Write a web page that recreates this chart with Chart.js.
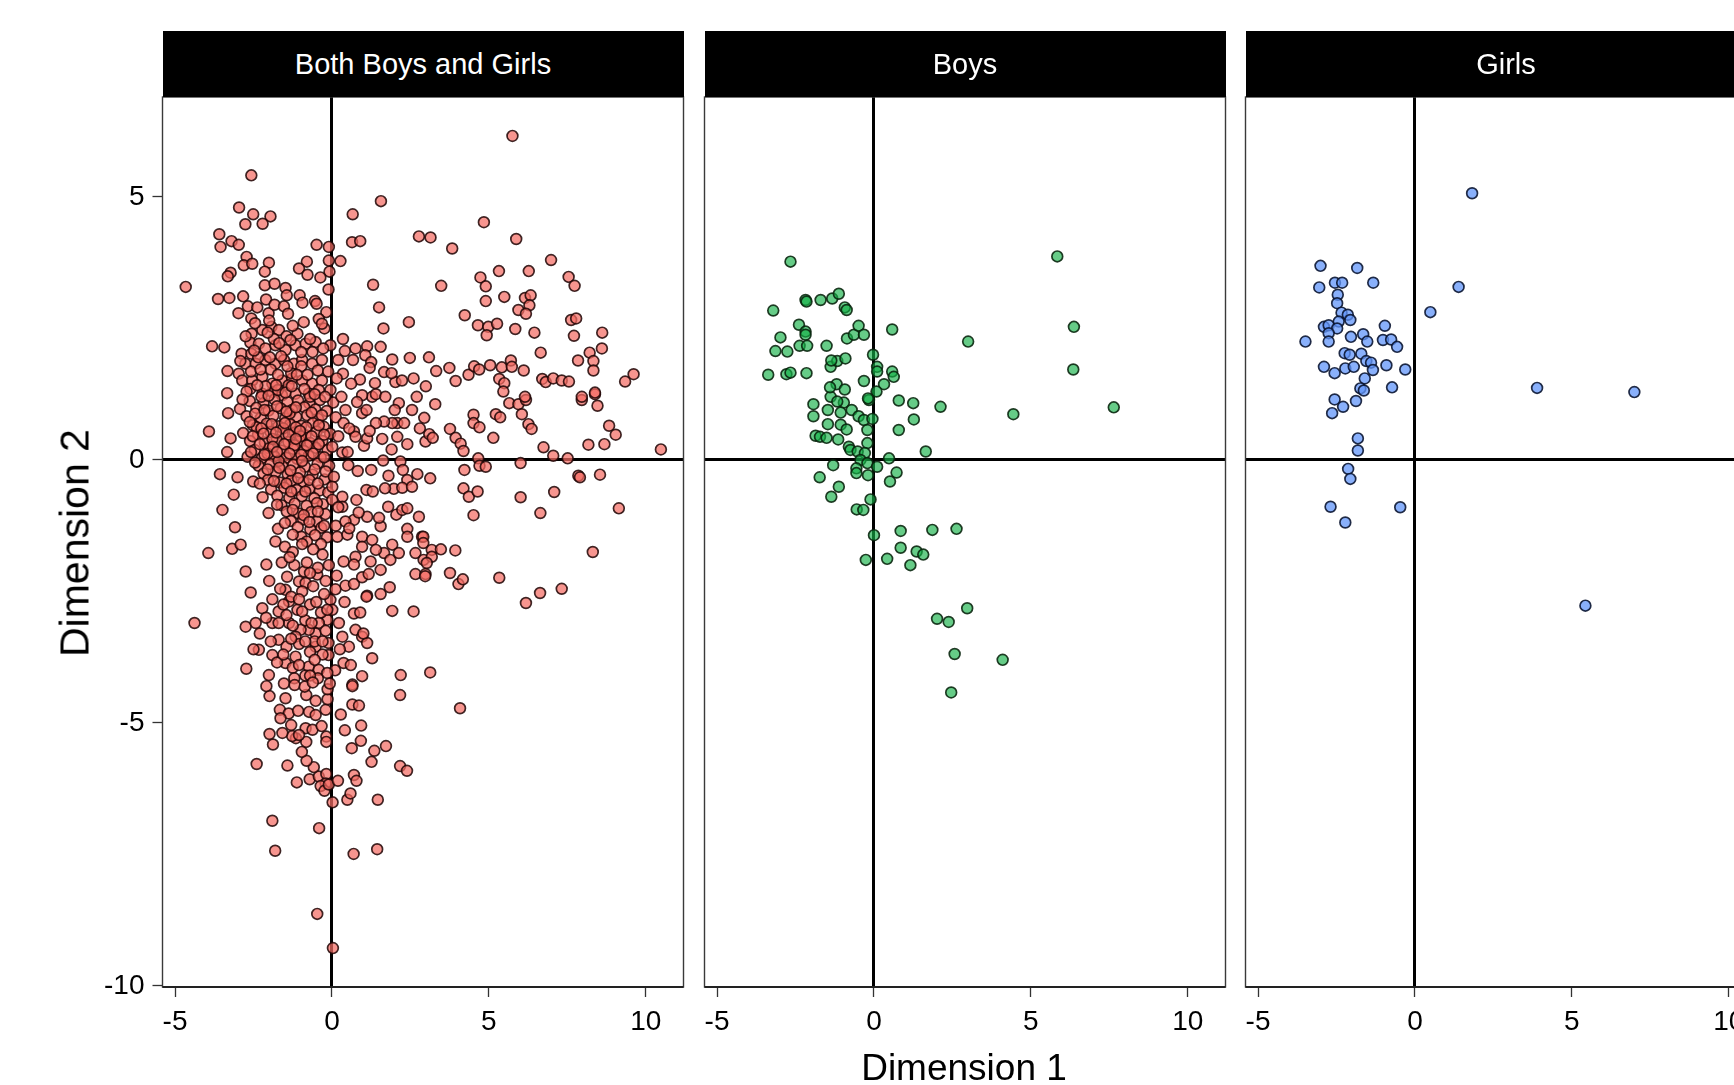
<!DOCTYPE html>
<html>
<head>
<meta charset="utf-8">
<script src="https://cdn.jsdelivr.net/npm/chart.js@4.4.1/dist/chart.umd.min.js"></script>
<style>
  html, body { margin: 0; padding: 0; background: #fff; overflow: hidden; }
  #wrap { position: relative; width: 1734px; height: 1085px; overflow: hidden; background: #fff;
          font-family: 'Liberation Sans', Arial, Helvetica, sans-serif; }
  canvas { position: absolute; left: 0; top: 0; }
  .strip { position: absolute; top: 31px; height: 66px; background: #000; color: #fff;
           font-size: 29px; line-height: 66px; text-align: center; white-space: nowrap; }
  .title { position: absolute; color: #000; white-space: nowrap; }
</style>
</head>
<body>
<div id="wrap">
  <canvas id="c1" width="1734" height="1085"></canvas>
  <canvas id="c2" width="1734" height="1085"></canvas>
  <canvas id="c3" width="1800" height="1085"></canvas>
  <div class="strip" id="s1"></div>
  <div class="strip" id="s2"></div>
  <div class="strip" id="s3"></div>
  <div class="title" id="ty" style="left:75px; top:543px; font-size:41px; transform: translate(-50%,-50%) rotate(-90deg);"></div>
  <div class="title" id="tx" style="left:964px; top:1068px; font-size:37px; transform: translate(-50%,-50%);"></div>
</div>
<script>
// ---------------- DATA ----------------
const panelTitles = ["Both Boys and Girls", "Boys", "Girls"];
const xAxisTitle = "Dimension 1";
const yAxisTitle = "Dimension 2";
const xTicks = [-5, 0, 5, 10];
const yTicks = [-10, -5, 0, 5];

// Both Boys and Girls: [Dimension 1, Dimension 2]
const bothUpper = [
[-2.57,5.41],[1.56,4.92],[0.66,4.67],[-2.96,4.80],[-2.51,4.67],[-1.96,4.63],[-2.76,4.48],[-2.21,4.49],[-3.59,4.29],[-3.55,4.05],
[-3.20,4.16],[-2.97,4.09],[0.64,4.14],[0.90,4.16],[2.77,4.25],[3.14,4.23],[-0.49,4.09],[-0.10,4.05],[-2.72,3.86],[-2.81,3.70],
[-2.54,3.73],[-2.01,3.75],[-0.80,3.77],[-1.05,3.64],[-0.78,3.52],[-0.10,3.79],[0.27,3.78],[-0.08,3.58],[-0.37,3.47],[-3.23,3.56],
[-3.32,3.49],[-2.14,3.58],[-4.66,3.29],[-2.14,3.32],[-1.83,3.35],[-1.48,3.27],[-1.44,3.13],[-0.11,3.24],[1.31,3.33],[-3.63,3.06],
[-3.27,3.08],[-2.83,3.11],[-1.03,3.13],[-0.94,2.99],[-0.54,3.02],[-0.49,2.97],[1.50,2.90],[-2.98,2.79],[-2.68,2.92],[-2.38,2.90],
[-2.57,2.69],[-2.10,3.05],[-2.02,2.79],[-1.83,2.95],[-1.53,2.92],[-1.40,2.78],[-0.18,2.81],[-0.42,2.68],[2.45,2.62],[1.64,2.50],
[-0.24,2.50],[-0.32,2.59],[-1.93,2.53],[-2.22,2.47],[-1.69,2.47],[-2.56,2.40],[-3.82,2.16],[-3.43,2.14],[-0.05,2.18],[1.55,2.15],
[1.92,1.91],[2.48,1.94],[3.09,1.95],[1.66,1.67],[2.02,1.48],[2.23,1.51],[2.99,1.40],[0.89,1.53],[0.41,2.07],[0.75,2.12],
[1.12,2.16],[0.20,1.90],[0.67,1.90],[1.06,1.99],[1.25,1.86],[0.35,1.64],[0.61,1.45],[1.37,1.46],[-3.33,1.69],[-3.34,1.27],
[-2.97,1.64],[-2.88,2.02],[-2.57,2.02],[-2.60,2.23]
];
const bothCore = [
[-2.33,2.21],[-2.12,2.12],[-1.80,2.18],[-1.48,2.09],[-1.16,2.18],[-0.84,2.21],[-0.52,2.24],[-2.76,1.83],[-2.43,1.83],[-2.12,1.90],
[-1.80,1.83],[-1.53,1.90],[-1.21,1.83],[-0.95,1.90],[-0.63,1.83],[-0.32,1.90],[-2.86,1.51],[-2.54,1.51],[-2.22,1.58],[-1.90,1.45],
[-1.59,1.51],[-1.27,1.55],[-0.95,1.51],[-0.63,1.45],[-0.32,1.51],[-2.22,1.26],[-1.90,1.29],[-1.59,1.23],[-1.16,1.26],[-0.74,1.26],
[-0.42,1.33],[-0.05,1.33],
[-2.62,1.12],[-2.18,1.08],[-1.83,1.15],[-1.42,1.10],[-1.08,1.13],[-0.72,1.07],[-0.38,1.14],[0.04,1.09],
[-2.93,0.97],[-2.41,0.99],[-2.02,0.94],[-1.63,0.98],[-1.27,0.95],[-0.88,1.00],[-0.53,0.96],[-0.17,0.93],
[-2.72,0.83],[-2.27,0.80],[-1.87,0.84],[-1.49,0.79],[-1.14,0.82],[-0.79,0.85],[-0.44,0.78],[0.12,0.81],
[-2.52,0.66],[-2.08,0.69],[-1.71,0.64],[-1.33,0.68],[-0.98,0.65],[-0.61,0.70],[-0.26,0.63],
[-2.83,0.51],[-2.36,0.48],[-1.96,0.53],[-1.57,0.49],[-1.19,0.52],[-0.84,0.47],[-0.49,0.54],[-0.06,0.50],
[-2.61,0.36],[-2.14,0.33],[-1.76,0.38],[-1.39,0.34],[-1.03,0.37],[-0.69,0.32],[-0.31,0.36],
[-2.46,0.19],[-2.01,0.22],[-1.62,0.18],[-1.24,0.21],[-0.89,0.17],[-0.52,0.23],[-0.14,0.19],
[-2.69,0.06],[-2.24,0.03],[-1.84,0.07],[-1.46,0.04],[-1.11,0.02],[-0.74,0.08],[-0.36,0.05],
[-2.34,-0.11],[-1.96,-0.08],[-1.58,-0.12],[-1.23,-0.09],[-0.86,-0.13],[-0.46,-0.07],[-0.09,-0.11],
[-2.18,-0.26],[-1.79,-0.23],[-1.41,-0.27],[-1.02,-0.24],[-0.62,-0.28],
[-2.51,-0.41],[-2.04,-0.38],[-1.66,-0.43],[-1.29,-0.39],[-0.91,-0.42],[-0.24,-0.37],
[-1.94,-0.56],[-1.52,-0.53],[-1.12,-0.57],[-0.71,-0.54],[-0.39,-0.58],
[-2.21,-0.71],[-1.74,-0.68],[-1.36,-0.72],[-0.96,-0.69],[-0.56,-0.73],
[-1.61,-0.86],[-1.19,-0.83],[-0.81,-0.87],[-0.29,-0.84],
[-2.02,-1.01],[-1.44,-0.98],[-1.06,-1.02],[-0.66,-0.99],[-0.21,-1.03],
[-1.31,-1.16],[-0.92,-1.13],[-0.48,-1.17],
[-1.72,-1.31],[-1.09,-1.28],[-0.69,-1.32],[-0.34,-1.29],
[-0.98,-1.46],[-0.54,-1.43],[-0.16,-1.47],
[-2.35,1.95],[-1.95,1.72],[-1.62,1.97],[-1.30,1.65],[-0.98,1.78],[-2.12,1.40],[-1.72,1.33],[-1.38,1.42],[-2.40,0.62],[-1.90,0.40],
[-1.55,0.60],[-1.20,0.28],[-2.05,0.12],[-1.70,-0.02],[-1.35,0.88],[-2.25,1.20],[-1.00,0.45],[-0.70,1.20],[-2.60,1.35],[-1.85,2.30],
[-1.45,2.35],[-1.10,2.40],[-0.70,2.30],[-2.45,2.60],[-1.25,2.55],[-0.90,2.62],[-2.00,2.65]
];
const bothCoreExtra = [
[-2.75,2.35],[-2.48,2.08],[-2.05,2.42],[-1.68,2.22],[-1.32,2.28],[-0.98,2.05],[-0.62,2.05],[-0.28,2.12],[-2.92,1.88],[-2.58,1.68],
[-2.28,1.72],[-1.98,1.95],[-1.72,1.62],[-1.42,1.78],[-1.12,1.62],[-0.78,1.62],[-0.45,1.70],[-0.12,1.68],[-2.72,1.30],[-2.38,1.42],
[-2.02,1.22],[-1.78,1.42],[-1.48,1.28],[-1.28,1.40],[-0.88,1.35],[-0.55,1.25],[-0.22,1.20],[-2.85,1.15],[-2.45,0.88],[-2.15,0.95],
[-1.75,1.02],[-1.45,0.92],[-1.15,1.00],[-0.65,0.90],[-0.32,0.85],[-2.62,0.72],[-2.25,0.60],[-1.92,0.68],[-1.50,0.70],[-1.15,0.62],
[-0.82,0.62],[-0.42,0.66],[-2.52,0.45],[-2.18,0.50],[-1.78,0.52],[-1.38,0.48],[-1.02,0.55],[-0.65,0.45],[-0.25,0.48],[-2.30,0.30],
[-1.88,0.25],[-1.52,0.30],[-1.15,0.40],[-0.80,0.28],[-0.42,0.30],[-2.58,0.15],[-2.15,0.10],[-1.75,0.15],[-1.35,0.12],[-0.98,0.10],
[-0.60,0.12],[-0.25,0.05],[-2.45,-0.05],[-2.05,-0.18],[-1.68,-0.15],[-1.32,-0.20],[-0.95,-0.02],[-0.55,-0.18],[-0.20,-0.22],[-2.30,-0.45],
[-1.85,-0.40],[-1.45,-0.45],[-1.08,-0.35],[-0.72,-0.38],[-0.45,-0.45],[-1.75,-0.85],[-1.30,-0.60],[-0.85,-0.60],[-0.48,-0.82],[-0.12,-0.62],
[-1.25,-0.95],[-0.90,-1.05],[-0.45,-0.98],[-1.50,-1.20],[-0.72,-1.18],[-0.25,-1.25],[-1.25,-1.42],[-0.80,-1.55],[-0.35,-1.60],[0.12,-1.25]
];
const bothLower = [
[-3.92,0.54],[-4.38,-3.10],[-3.94,-1.77],[-3.57,-0.27],[-3.49,-0.95],[-3.13,-0.66],[-3.01,-0.33],[-3.34,0.15],[-3.23,0.41],[-3.31,0.89],
[-3.09,-1.28],[-3.18,-1.69],[-2.91,-1.61],[-2.75,-2.12],[-2.59,-2.52],[-2.75,-3.17],[-2.73,-3.97],[-2.09,-1.99],[-2.22,-2.82],[-1.70,-2.88],
[-2.43,-3.10],[-2.33,-3.61],[-1.90,-3.71],[-2.01,-4.09],[-1.48,-3.86],[-1.16,-3.74],[-0.74,-3.93],[-0.42,-3.99],[-0.11,-3.71],[0.37,-3.86],
[0.96,-4.11],[0.65,-4.27],[2.19,-4.09],[1.28,-3.77],[2.60,-2.88],[1.92,-2.87],[1.55,-2.55],[1.12,-2.58],[1.84,-2.42],[0.43,-2.39],
[0.70,-2.36],[0.96,-2.23],[1.17,-2.17],[0.11,-2.46],[-0.05,-2.66],[0.01,-2.85],[0.22,-3.10],[-0.15,-3.04],[-0.42,-3.10],[-0.52,-3.30],
[-0.74,-3.23],[-1.00,-3.23],[-1.16,-3.36],[-1.37,-3.10],[-1.37,-2.69],[-1.48,-2.47],[-1.05,-2.31],[-0.84,-2.34],[-0.47,-2.18],[-0.89,-2.12],
[-1.43,-2.22],[0.70,-2.92],[0.75,-3.23],[0.96,-3.36],[0.33,-3.36],[0.54,-3.55],[1.12,-3.48],[-0.11,-3.48],[-0.52,-3.55],[-1.70,-3.42],
[-1.90,-3.10],
[-1.80,-1.55],[-1.50,-1.65],[-1.25,-1.75],[-0.95,-1.60],[-0.60,-1.70],[-0.30,-1.80],[-1.60,-1.95],[-1.20,-2.00],[-0.80,-1.95],[-0.45,-2.05],
[-0.10,-2.00],[-2.00,-2.30],[-1.65,-2.45],[-1.30,-2.60],[-0.95,-2.50],[-0.60,-2.40],[-0.25,-2.55],[-1.90,-2.65],[-1.55,-2.75],[-1.10,-2.85],
[-0.70,-2.75],[-0.35,-2.90],[-2.10,-3.00],[-1.70,-3.10],[-1.25,-3.15],[-0.85,-3.05],[-0.55,-3.45],[-0.20,-3.25],[-1.95,-3.45],[-1.45,-3.55],
[-1.05,-3.50],[-0.70,-3.65],[-0.30,-3.70],[-1.75,-3.85],[-1.25,-3.95],[-0.85,-4.10],[-0.45,-4.15],[0.10,-4.00],[-2.30,-3.30],[-2.50,-3.60],
[-1.35,-1.85],[-0.70,-2.15],[-0.20,-2.30],[-1.05,-2.65],[-0.50,-2.70],[-0.15,-2.85],[-1.45,-2.95],[-0.95,-2.88],[-0.65,-3.10],[-0.30,-3.45],
[-1.30,-3.40],[-0.85,-3.45],[-1.55,-3.70],[-1.05,-3.90],[-0.55,-3.80],[-0.15,-4.05],[-1.20,-4.15],[-0.70,-4.10]
];
const bothRightMid = [
[0.33,0.14],[0.52,-0.10],[0.82,-0.21],[1.25,-0.19],[1.63,-0.01],[2.18,-0.03],[2.26,-0.19],[2.72,-0.27],[2.40,-0.38],[1.97,-0.55],
[1.69,-0.54],[2.24,-0.53],[2.55,-0.51],[1.10,-0.57],[0.78,-0.76],[0.33,-0.70],[0.33,-0.89],[0.01,-0.76],[1.79,-0.89],[2.05,-1.04],
[2.24,-0.95],[2.40,-0.92],[2.77,-1.08],[1.12,-1.08],[0.70,-1.14],[0.43,-1.17],[0.17,-1.46],[0.49,-1.42],[0.96,-1.46],[1.28,-1.52],
[1.55,-1.26],[1.92,-1.61],[1.66,-1.77],[1.40,-1.71],[0.96,-1.65],[0.75,-1.84],[0.37,-1.93],[0.70,-1.99],[1.23,-1.93],[1.55,-2.09],
[1.86,-1.90],[2.13,-1.77],[2.40,-1.31],[2.40,-1.46],[2.66,-1.77],[2.92,-1.90],[2.66,-2.17],[2.98,-2.17],[2.87,-1.46],[2.98,0.35],
[2.13,1.08],[2.08,0.70],[2.08,0.44],[1.92,0.70],[1.66,0.73],[1.40,0.70],[1.28,1.20],[0.96,1.23],[0.70,0.54],[0.75,0.44],
[1.02,0.27],[1.12,0.41],[0.96,0.89],[0.43,0.95],[0.37,0.70],[0.01,0.25],[0.06,-0.32],[0.01,-0.51],
[0.20,-0.90],[0.55,-1.30],[0.15,-2.20],[0.40,-2.70],[0.90,-2.90],[0.25,-3.60],[0.60,-3.90],[1.00,-3.30],[0.85,-1.00],[1.30,-0.60],
[1.50,-1.10],[1.80,-0.30],[1.10,-2.60],
[0.30,1.20],[0.55,0.60],[0.80,1.10],[1.10,0.95],[1.40,1.25],[1.70,1.20],[2.00,0.95],[2.30,0.70],[2.55,0.95],[2.70,1.20],
[1.20,0.55],[1.60,0.40],[1.90,0.20],[2.40,0.30],[0.20,0.45],[0.50,0.15],[2.80,0.60],[2.60,1.55],[1.90,1.65],[1.20,1.75],
[0.35,2.30],[0.15,1.55]
];
const bothRight = [
[3.29,1.06],[2.94,0.80],[3.76,0.59],[3.10,0.49],[3.21,0.42],[3.94,0.42],[4.10,0.31],[4.19,0.17],[4.51,0.86],[4.51,0.70],
[4.70,0.62],[5.22,0.87],[5.36,0.81],[5.14,0.42],[5.65,1.08],[5.94,1.06],[6.18,1.14],[6.05,0.87],[6.26,0.68],[6.36,0.59],
[7.96,1.14],[8.38,1.25],[8.46,1.03],[8.83,0.65],[9.04,0.48],[8.17,0.29],[8.68,0.30],[6.74,0.24],[7.05,0.08],[7.51,0.03],
[10.48,0.20],[4.66,0.03],[4.70,-0.11],[4.90,-0.13],[4.22,-0.19],[6.01,-0.06],[3.13,-0.35],[7.85,-0.30],[7.90,-0.33],[8.54,-0.28],
[4.19,-0.54],[4.36,-0.70],[4.64,-0.60],[6.01,-0.71],[7.08,-0.61],[4.51,-1.05],[6.64,-1.01],[9.14,-0.92],[2.91,-1.46],[2.91,-1.58],
[3.18,-1.71],[3.47,-1.70],[3.93,-1.72],[3.18,-1.84],[3.02,-1.96],[2.97,-2.21],[3.76,-2.15],[4.03,-2.36],[4.17,-2.27],[5.33,-2.24],
[8.31,-1.75],[7.32,-2.45],[6.63,-2.53],[6.18,-2.72],[3.13,-4.04],[4.08,-4.72],
[5.75,6.16],[4.84,4.52],[5.87,4.20],[3.83,4.02],[6.98,3.80],[5.32,3.59],[6.27,3.59],[4.73,3.47],[4.90,3.30],[7.54,3.48],
[7.73,3.31],[3.48,3.31],[4.90,3.02],[5.49,3.10],[6.15,3.08],[6.33,3.13],[6.29,2.94],[5.94,2.85],[6.18,2.78],[4.23,2.75],
[4.65,2.56],[4.98,2.53],[4.93,2.37],[5.26,2.59],[5.84,2.49],[6.45,2.42],[7.62,2.66],[7.78,2.69],[7.71,2.36],[8.61,2.42],
[8.60,2.12],[8.21,2.04],[8.33,1.88],[8.33,1.70],[7.84,1.89],[6.65,2.04],[3.32,1.69],[3.74,1.75],[3.94,1.50],[4.35,1.62],
[4.53,1.78],[4.69,1.72],[5.04,1.80],[5.41,1.76],[5.70,1.89],[5.73,1.77],[6.11,1.70],[5.33,1.54],[5.49,1.46],[5.46,1.30],
[6.70,1.54],[6.81,1.48],[7.05,1.55],[7.32,1.51],[7.55,1.49],[9.34,1.49],[9.61,1.63],[6.15,1.20],[7.96,1.20],[8.38,1.28]
];
const bothBottom = [
[-0.47,-8.63],[0.03,-9.28],[-1.90,-6.86],[-1.81,-7.43],[-0.41,-7.00],[0.69,-7.49],[1.44,-7.40],[1.46,-6.46],[0.02,-6.51],[0.49,-6.46],
[0.59,-6.34],[-2.40,-5.78],[-1.42,-5.81],[-1.12,-6.13],[-0.71,-6.07],[-0.42,-6.02],[-0.18,-5.97],[-0.20,-6.15],[-0.36,-6.20],[-0.24,-6.29],
[-0.10,-6.17],[0.19,-6.10],[0.70,-5.99],[0.78,-6.10],[1.26,-5.74],[1.35,-5.53],[1.72,-5.44],[2.17,-5.82],[2.39,-5.91],[0.63,-5.48],
[0.92,-5.34],[0.93,-5.05],[0.41,-5.14],[0.28,-4.84],[0.65,-4.65],[0.86,-4.67],[0.65,-4.30],[2.17,-4.47],[-0.58,-5.84],[-0.81,-5.72],
[-0.96,-5.55],[-0.82,-5.36],[-1.15,-5.29],[-1.27,-5.25],[-1.58,-5.19],[-1.99,-5.21],[-1.88,-5.41],[-0.84,-5.10],[-0.62,-5.13],[-0.33,-5.06],
[-0.18,-5.26],[-0.18,-5.36],[-1.66,-4.75],[-1.38,-4.82],[-1.08,-4.77],[-0.73,-4.79],[-0.52,-4.85],[-0.20,-4.75],[-1.48,-4.53],[-0.82,-4.47],
[-0.52,-4.58],[-0.14,-4.55],[-0.14,-4.36],[-1.99,-4.49],[-2.09,-4.30],[-1.53,-4.25],[-1.19,-4.28],[-0.87,-4.31],[-0.61,-4.23],[-0.07,-4.25],
[-1.64,-4.91],[-1.30,-5.04],[-1.05,-5.23]
];

// Boys
const boys = [
[-2.66,3.77],[5.84,3.87],[6.37,2.53],[6.35,1.72],[7.64,1.00],[4.44,0.87],[3.00,2.25],[0.58,2.48],[2.12,1.01],[1.65,0.16],
[0.79,1.13],[1.25,1.08],[1.27,0.77],[0.79,0.57],[-3.21,2.84],[-2.18,3.04],[-2.15,3.01],[-1.70,3.04],[-1.33,3.07],[-1.12,3.16],
[-0.93,2.90],[-0.87,2.85],[-2.39,2.57],[-2.18,2.44],[-2.18,2.38],[-2.98,2.33],[-3.14,2.07],[-2.76,2.06],[-2.37,2.17],[-2.13,2.17],
[-1.51,2.17],[-0.86,2.31],[-0.64,2.38],[-0.49,2.55],[-0.32,2.38],[-0.03,2.00],[0.10,1.77],[0.10,1.68],[0.58,1.68],[0.63,1.58],
[0.32,1.44],[-0.32,1.50],[-3.37,1.62],[-2.79,1.63],[-2.66,1.66],[-2.15,1.65],[-1.38,1.77],[-1.17,1.88],[-0.91,1.93],[-1.36,1.89],
[-1.19,1.44],[-0.93,1.34],[-1.38,1.20],[-1.93,1.06],[-1.93,0.83],[-1.47,0.95],[-0.96,1.09],[-1.06,0.90],[-0.71,0.95],[-1.06,0.67],
[-0.87,0.58],[-1.47,0.68],[-1.86,0.46],[-1.72,0.44],[-1.51,0.42],[-1.14,0.39],[-0.49,0.83],[-0.32,0.76],[-0.05,0.78],[-0.21,0.57],
[-0.16,1.14],[0.08,1.30],[-0.19,1.17],[-0.21,0.32],[-0.80,0.25],[-0.75,0.19],[-0.52,0.16],[-0.29,0.13],[-0.43,0.00],[-0.21,-0.06],
[0.10,-0.13],[-0.19,-0.29],[-0.56,-0.16],[-0.56,-0.25],[-1.30,-0.10],[-1.73,-0.33],[-1.12,-0.51],[-1.36,-0.70],[0.48,0.03],[0.72,-0.24],
[0.51,-0.41],[-0.11,-0.75],[-0.55,-0.94],[-0.34,-0.95],[0.00,-1.43],[0.85,-1.35],[1.86,-1.33],[2.63,-1.31],[0.85,-1.67],[1.36,-1.74],
[1.57,-1.80],[0.42,-1.88],[-0.26,-1.90],[1.16,-2.00],[2.97,-2.82],[2.01,-3.02],[2.38,-3.08],[2.57,-3.69],[4.10,-3.80],[2.46,-4.42],
[-1.40,1.38],[-1.17,1.11]
];

// Girls
const girls = [
[1.82,5.07],[1.39,3.29],[0.49,2.81],[3.89,1.37],[6.99,1.29],[5.43,-2.77],[-3.01,3.69],[-1.84,3.65],[-3.05,3.28],[-2.55,3.37],
[-2.32,3.37],[-1.33,3.37],[-2.46,3.14],[-2.48,2.98],[-2.34,2.80],[-2.14,2.76],[-2.06,2.66],[-2.43,2.63],[-2.90,2.53],[-2.75,2.56],
[-2.48,2.50],[-2.75,2.41],[-2.75,2.25],[-3.49,2.25],[-2.04,2.34],[-1.65,2.39],[-1.52,2.25],[-0.96,2.55],[-1.02,2.28],[-0.76,2.29],
[-0.57,2.15],[-2.24,2.03],[-2.08,2.00],[-1.71,2.02],[-1.55,1.88],[-1.40,1.85],[-1.34,1.71],[-2.90,1.77],[-2.56,1.65],[-2.22,1.74],
[-1.95,1.77],[-0.91,1.80],[-0.31,1.72],[-1.60,1.55],[-1.74,1.36],[-1.63,1.32],[-0.73,1.38],[-2.56,1.15],[-2.29,1.01],[-1.88,1.12],
[-2.64,0.89],[-1.82,0.41],[-1.82,0.18],[-2.13,-0.17],[-2.06,-0.36],[-2.69,-0.89],[-2.22,-1.19],[-0.47,-0.90]
];

const bothBoysAndGirls = [].concat(bothUpper, bothCore, bothCoreExtra, bothLower, bothRightMid, bothRight, bothBottom);

// ---------------- STYLE / LAYOUT ----------------
const FONT = "'Liberation Sans', Arial, Helvetica, sans-serif";
const X_MIN = -5.40, X_MAX = 11.20, Y_MIN = -10.02, Y_MAX = 6.90;
const PANEL_TOP = 97, PANEL_BOTTOM = 987;
const panels = [
  { id: 'c1', strip: 's1', left: 162.5, right: 683.5, canvasW: 1734, data: bothBoysAndGirls,
    fill: 'rgba(244,108,100,0.72)', stroke: 'rgba(30,5,5,0.85)', yLabels: true },
  { id: 'c2', strip: 's2', left: 704.5, right: 1225.5, canvasW: 1734, data: boys,
    fill: 'rgba(20,176,70,0.65)', stroke: 'rgba(8,35,12,0.88)', yLabels: false },
  { id: 'c3', strip: 's3', left: 1245.5, right: 1766.5, canvasW: 1800, data: girls,
    fill: 'rgba(97,150,250,0.75)', stroke: 'rgba(8,18,45,0.88)', yLabels: false }
];

const borderPlugin = {
  id: 'panelBorder',
  afterDatasetsDraw(chart) {
    const a = chart.chartArea, ctx = chart.ctx;
    ctx.save();
    ctx.strokeStyle = '#3a3a3a';
    ctx.lineWidth = 1.4;
    ctx.strokeRect(a.left, a.top, a.right - a.left, a.bottom - a.top);
    ctx.strokeStyle = '#222';
    ctx.lineWidth = 2.2;
    ctx.beginPath();
    ctx.moveTo(a.left, a.bottom); ctx.lineTo(a.right, a.bottom);
    ctx.stroke();
    ctx.restore();
  }
};

function zeroColor(ctx) {
  return (ctx.tick && ctx.tick.value === 0) ? '#000' : 'rgba(0,0,0,0)';
}

panels.forEach((p, i) => {
  const s = document.getElementById(p.strip);
  s.style.left = p.left + 'px';
  s.style.width = (p.right - p.left) + 'px';
  s.textContent = panelTitles[i];

  new Chart(document.getElementById(p.id), {
    type: 'scatter',
    data: {
      datasets: [{
        data: p.data.map(d => ({ x: d[0], y: d[1] })),
        backgroundColor: p.fill,
        borderColor: p.stroke,
        borderWidth: 1.7,
        pointRadius: 5.4,
        pointHoverRadius: 5.4
      }]
    },
    options: {
      responsive: false,
      animation: false,
      events: [],
      layout: { padding: { left: p.yLabels ? 0 : p.left, right: p.canvasW - p.right, top: PANEL_TOP, bottom: 0 } },
      plugins: { legend: { display: false }, tooltip: { enabled: false } },
      scales: {
        x: {
          type: 'linear', min: X_MIN, max: X_MAX,
          afterBuildTicks: sc => { sc.ticks = xTicks.map(v => ({ value: v })); },
          afterFit: sc => { sc.height = 1085 - PANEL_BOTTOM; },
          ticks: { color: '#000', font: { family: FONT, size: 28 }, padding: 8, maxRotation: 0 },
          grid: { color: zeroColor, lineWidth: 3, drawTicks: true, tickLength: 10, tickColor: '#333', tickWidth: 1.3 },
          border: { display: false }
        },
        y: {
          type: 'linear', min: Y_MIN, max: Y_MAX,
          afterBuildTicks: sc => { sc.ticks = yTicks.map(v => ({ value: v })); },
          afterFit: sc => { sc.width = p.yLabels ? p.left : 0; },
          ticks: { display: p.yLabels, color: '#000', font: { family: FONT, size: 28 }, padding: 8 },
          grid: { color: zeroColor, lineWidth: 3, drawTicks: p.yLabels, tickLength: 10, tickColor: '#333', tickWidth: 1.3 },
          border: { display: false }
        }
      }
    },
    plugins: [borderPlugin]
  });
});

document.getElementById('tx').textContent = xAxisTitle;
document.getElementById('ty').textContent = yAxisTitle;
</script>
</body>
</html>
